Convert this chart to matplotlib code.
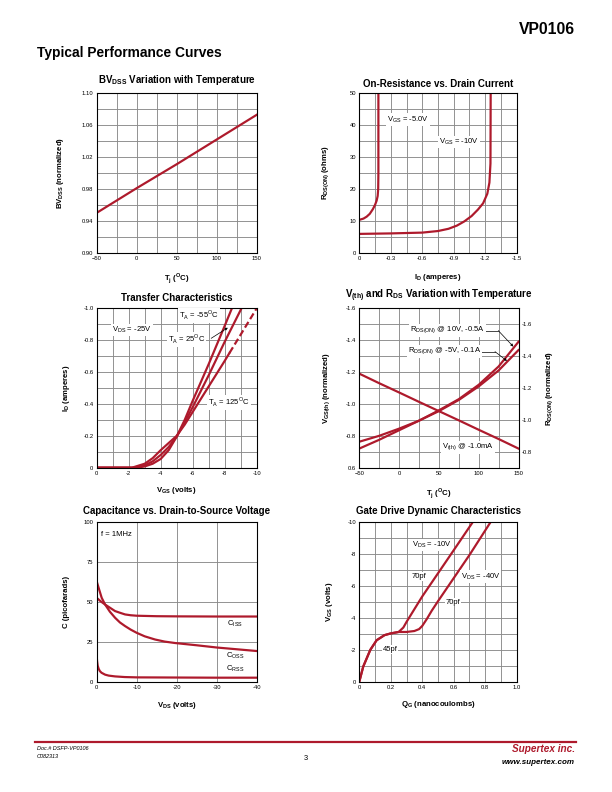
import numpy as np
import matplotlib
matplotlib.use('Agg')
import matplotlib.pyplot as plt
from matplotlib.ticker import MultipleLocator, FixedLocator

plt.rcParams['font.family'] = ['Liberation Sans', 'DejaVu Sans']
plt.rcParams['mathtext.fontset'] = 'custom'
plt.rcParams['mathtext.rm'] = 'Liberation Sans'
plt.rcParams['mathtext.bf'] = 'Liberation Sans:bold'

RED = '#AE1A2C'
GRID = '#8a8a8a'

# ---- data ----
# BVdss vs temperature
bv_temp = [-50, 0, 50, 100, 150]
bv_norm = [0.950, 0.981, 1.011, 1.042, 1.073]

# On-resistance vs drain current
ron5_id = [0, -0.04, -0.07, -0.10, -0.13, -0.15, -0.165, -0.175, -0.18, -0.182, -0.182]
ron5_r = [10.3, 10.7, 11.3, 12.2, 13.7, 15.0, 16.3, 17.8, 20.0, 25.0, 50.0]
ron10_id = [0, -0.3, -0.6, -0.75, -0.85, -0.93, -1.0, -1.07, -1.13, -1.18, -1.22, -1.24, -1.25, -1.252]
ron10_r = [5.9, 6.05, 6.3, 6.8, 7.5, 8.5, 9.8, 11.5, 13.5, 15.5, 18.5, 22.0, 28.0, 50.0]

# Transfer characteristics (VDS = -25V)
tr_m55_v = [0, -2.5, -3.0, -3.5, -4.0, -4.5, -5.0, -5.5, -6.0, -7.0, -8.0, -8.45]
tr_m55_i = [0, 0, -0.008, -0.025, -0.055, -0.11, -0.195, -0.30, -0.42, -0.65, -0.89, -1.0]
tr_25_v = [0, -2.3, -3.0, -3.5, -4.0, -4.5, -5.0, -5.5, -6.0, -7.0, -8.0, -9.05]
tr_25_i = [0, 0, -0.015, -0.04, -0.08, -0.13, -0.195, -0.285, -0.38, -0.58, -0.79, -1.0]
tr_125_v = [0, -2.2, -3.0, -3.5, -4.0, -4.5, -5.0, -5.5, -6.0, -7.0, -8.0, -8.3]
tr_125_i = [0, 0, -0.025, -0.06, -0.11, -0.155, -0.20, -0.27, -0.35, -0.51, -0.67, -0.72]
tr_125_dash_v = [-8.3, -9.0, -10.0]
tr_125_dash_i = [-0.72, -0.835, -1.0]

# Vth and Rds(on) vs temperature
vt_temp = [-50, -25, 0, 25, 50, 75, 100, 125, 150]
vth = [-1.19, -1.13, -1.072, -1.013, -0.955, -0.897, -0.838, -0.78, -0.72]
rds10 = [-0.72, -0.775, -0.835, -0.895, -0.96, -1.03, -1.12, -1.235, -1.39]
rds5 = [-0.763, -0.80, -0.845, -0.895, -0.955, -1.025, -1.11, -1.21, -1.338]

# Capacitance vs VDS
ciss_v = [0, -1, -2.1, -3.5, -4.6, -6, -7.1, -8.5, -10, -15, -20, -30, -40]
ciss_c = [52.7, 50.5, 48.5, 46.2, 44.4, 43.2, 42.3, 41.8, 41.5, 41.2, 41.1, 41.0, 41.0]
coss_v = [0, -0.6, -1.25, -2.1, -3.3, -4.6, -5.8, -7.1, -8.5, -10, -12, -14.6, -17, -19.6, -25, -30, -35, -40]
coss_c = [63, 58, 52.7, 48.5, 44.0, 40.2, 37.3, 35.0, 32.8, 30.8, 28.6, 26.6, 25.3, 24.4, 23.0, 21.6, 20.5, 19.4]
crss_v = [0, -0.1, -0.25, -0.5, -0.8, -1.2, -2.1, -3.0, -4.6, -7, -10, -20, -30, -40]
crss_c = [16, 13, 10.2, 8.2, 6.8, 5.8, 4.6, 4.0, 3.5, 3.1, 2.9, 2.8, 2.7, 2.7]

# Gate drive dynamic characteristics
gd10_q = [0, 0.025, 0.07, 0.11, 0.16, 0.20, 0.25, 0.28, 0.30, 0.35, 0.40, 0.50, 0.60, 0.72]
gd10_v = [0, -0.95, -2.0, -2.6, -2.92, -3.03, -3.12, -3.4, -3.75, -4.55, -5.35, -6.8, -8.25, -10.0]
gd40_q = [0, 0.025, 0.07, 0.11, 0.16, 0.20, 0.25, 0.30, 0.35, 0.38, 0.40, 0.43, 0.46, 0.50, 0.60, 0.70, 0.83]
gd40_v = [0, -0.95, -2.0, -2.6, -2.92, -3.03, -3.12, -3.12, -3.18, -3.3, -3.5, -3.95, -4.45, -5.05, -6.5, -7.95, -9.95]

fig = plt.figure(figsize=(8.5, 11), dpi=72)
W, H = 612.0, 792.0

TICK_FS = 5.9
LAB_FS = 7.8
TITLE_FS = 9.7
NOTE_FS = 7.6


def make_ax(x0, y0, x1, y1):
    # pixel box -> figure fraction
    return fig.add_axes([x0 / W, 1 - y1 / H, (x1 - x0) / W, (y1 - y0) / H])


def style(ax, title, ty, xlabel, xly, ylabel, ylx):
    ax.grid(True, which='both', color=GRID, lw=0.9)
    ax.set_axisbelow(True)
    ax.tick_params(which='both', length=0, labelsize=TICK_FS, pad=3.2)
    for s in ax.spines.values():
        s.set_linewidth(1.1)
    ax.text(0.5, ty, title, transform=ax.transAxes, ha='center', va='center',
            fontsize=TITLE_FS, fontweight='bold')
    ax.set_xlabel(xlabel, fontsize=LAB_FS, fontweight='bold')
    ax.set_ylabel(ylabel, fontsize=LAB_FS, fontweight='bold')
    ax.xaxis.set_label_coords(0.5, xly)
    ax.yaxis.set_label_coords(ylx, 0.5)


def label(ax, x, y, s, ha='center', size=NOTE_FS):
    ax.text(x, y, s, ha=ha, va='center', fontsize=size, zorder=5,
            bbox=dict(facecolor='white', edgecolor='none', pad=1.0))


lw = 2.2

# ---- BVdss ----
ax1 = make_ax(96.7, 93.3, 256.7, 252.7)
ax1.plot(bv_temp, bv_norm, color=RED, lw=lw)
ax1.set_xlim(-50, 150)
ax1.set_ylim(0.90, 1.10)
ax1.xaxis.set_major_locator(MultipleLocator(50))
ax1.xaxis.set_minor_locator(MultipleLocator(25))
ax1.yaxis.set_major_locator(FixedLocator([0.90, 0.94, 0.98, 1.02, 1.06, 1.10]))
ax1.yaxis.set_minor_locator(FixedLocator(np.linspace(0.90, 1.10, 11)))
ax1.yaxis.set_major_formatter(lambda v, p: f'{v:.2f}')
style(ax1, r'BV$_\mathregular{DSS}$ Variation with Temperature', 1.083,
      r'T$_\mathregular{j}$ ($^\mathregular{O}$C)', -0.123,
      r'BV$_\mathregular{DSS}$ (normalized)', -0.19)

# ---- On-resistance ----
ax2 = make_ax(359.3, 93.3, 516.7, 252.7)
ax2.plot(ron5_id, ron5_r, color=RED, lw=lw)
ax2.plot(ron10_id, ron10_r, color=RED, lw=lw)
ax2.set_xlim(0, -1.5)
ax2.set_ylim(0, 50)
ax2.xaxis.set_major_locator(FixedLocator([0, -0.3, -0.6, -0.9, -1.2, -1.5]))
ax2.xaxis.set_minor_locator(FixedLocator(np.arange(0, -1.51, -0.15)))
ax2.xaxis.set_major_formatter(lambda v, p: '0' if abs(v) < 1e-9 else f'{v:.1f}')
ax2.yaxis.set_major_locator(MultipleLocator(10))
ax2.yaxis.set_minor_locator(MultipleLocator(5))
style(ax2, 'On-Resistance vs. Drain Current', 1.058,
      r'I$_\mathregular{D}$ (amperes)', -0.123,
      r'R$_\mathregular{DS(ON)}$ (ohms)', -0.175)
label(ax2, -0.46, 41.8, r'V$_\mathregular{GS}$ = -5.0V')
label(ax2, -0.95, 34.8, r'V$_\mathregular{GS}$ = -10V')

# ---- Transfer characteristics ----
ax3 = make_ax(96.7, 308.3, 256.7, 467.7)
ax3.plot(tr_m55_v, tr_m55_i, color=RED, lw=lw)
ax3.plot(tr_25_v, tr_25_i, color=RED, lw=lw)
ax3.plot(tr_125_v, tr_125_i, color=RED, lw=lw)
ax3.plot(tr_125_dash_v, tr_125_dash_i, color=RED, lw=lw, ls=(0, (3, 1.5)))
ax3.set_xlim(0, -10)
ax3.set_ylim(0, -1.0)
ax3.xaxis.set_major_locator(MultipleLocator(2))
ax3.xaxis.set_minor_locator(MultipleLocator(1))
ax3.xaxis.set_major_formatter(lambda v, p: f'{v:.0f}' if v != 0 else '0')
ax3.yaxis.set_major_locator(MultipleLocator(0.2))
ax3.yaxis.set_minor_locator(MultipleLocator(0.1))
ax3.yaxis.set_major_formatter(lambda v, p: '0' if abs(v) < 1e-9 else f'{v:.1f}')
style(ax3, 'Transfer Characteristics', 1.067,
      r'V$_\mathregular{GS}$ (volts)', -0.108,
      r'I$_\mathregular{D}$ (amperes)', -0.156)
label(ax3, -6.4, -0.955, r'T$_\mathregular{A}$ = -55$^\mathregular{O}$C')
label(ax3, -2.2, -0.865, r'V$_\mathregular{DS}$ = -25V')
label(ax3, -5.6, -0.805, r'T$_\mathregular{A}$ = 25$^\mathregular{O}$C')
ax3.annotate('', xy=(-8.3, -0.885), xytext=(-7.05, -0.805),
             arrowprops=dict(arrowstyle='-|>', color='black', lw=0.7,
                             mutation_scale=5), zorder=6)
label(ax3, -8.25, -0.41, r'T$_\mathregular{A}$ = 125$^\mathregular{O}$C')

# ---- Vth and Rds vs temperature ----
ax4 = make_ax(359.3, 308.3, 518.5, 467.7)
ax4.plot(vt_temp, vth, color=RED, lw=lw)
ax4.plot(vt_temp, rds10, color=RED, lw=lw)
ax4.plot(vt_temp, rds5, color=RED, lw=lw)
ax4.set_xlim(-50, 150)
ax4.set_ylim(-0.6, -1.6)
ax4.xaxis.set_major_locator(MultipleLocator(50))
ax4.xaxis.set_minor_locator(MultipleLocator(25))
ax4.yaxis.set_major_locator(FixedLocator([-0.6, -0.8, -1.0, -1.2, -1.4, -1.6]))
ax4.yaxis.set_minor_locator(MultipleLocator(0.1))
ax4.set_yticklabels(['0.6', '-0.8', '-1.0', '-1.2', '-1.4', '-1.6'])
style(ax4, r'V$_\mathregular{(th)}$ and R$_\mathregular{DS}$ Variation with Temperature', 1.079,
      r'T$_\mathregular{j}$ ($^\mathregular{O}$C)', -0.119,
      r'V$_\mathregular{GS(th)}$ (normalized)', -0.163)
ax4r = ax4.twinx()
ax4r.set_ylim(-0.7, -1.7)
ax4r.set_yticks([-0.8, -1.0, -1.2, -1.4, -1.6])
ax4r.set_yticklabels(['-0.8', '-1.0', '-1.2', '-1.4', '-1.6'])
ax4r.tick_params(length=0, labelsize=TICK_FS, pad=3.2)
ax4r.set_ylabel(r'R$_\mathregular{DS(ON)}$ (normalized)', fontsize=LAB_FS, fontweight='bold')
ax4r.yaxis.set_label_coords(1.165, 0.5)
label(ax4, 61, -1.46, r'R$_\mathregular{DS(ON)}$ @ 10V, -0.5A')
label(ax4, 57, -1.328, r'R$_\mathregular{DS(ON)}$ @ -5V, -0.1A')
label(ax4, 86, -0.724, r'V$_\mathregular{(th)}$ @ -1.0mA')
ax4.plot([108, 124.6], [-1.46, -1.46], color='black', lw=0.7, zorder=4)
ax4.annotate('', xy=(143.5, -1.36), xytext=(124.6, -1.46),
             arrowprops=dict(arrowstyle='-|>', color='black', lw=0.7,
                             mutation_scale=5, shrinkA=0, shrinkB=0), zorder=6)
ax4.plot([102, 120.5], [-1.328, -1.328], color='black', lw=0.7, zorder=4)
ax4.annotate('', xy=(135.5, -1.27), xytext=(120.5, -1.328),
             arrowprops=dict(arrowstyle='-|>', color='black', lw=0.7,
                             mutation_scale=5, shrinkA=0, shrinkB=0), zorder=6)

# ---- Capacitance ----
ax5 = make_ax(96.7, 522.3, 256.7, 682.0)
ax5.plot(ciss_v, ciss_c, color=RED, lw=lw)
ax5.plot(coss_v, coss_c, color=RED, lw=lw)
ax5.plot(crss_v, crss_c, color=RED, lw=lw)
ax5.set_xlim(0, -40)
ax5.set_ylim(0, 100)
ax5.xaxis.set_major_locator(MultipleLocator(10))
ax5.yaxis.set_major_locator(MultipleLocator(25))
ax5.xaxis.set_major_formatter(lambda v, p: f'{v:.0f}' if v != 0 else '0')
style(ax5, 'Capacitance vs. Drain-to-Source Voltage', 1.073,
      r'V$_\mathregular{DS}$ (volts)', -0.113,
      'C (picofarads)', -0.167)
ax5.text(-1.0, 92.5, 'f = 1MHz', fontsize=NOTE_FS, va='center')
ax5.text(-32.5, 36.5, r'C$_\mathregular{ISS}$', fontsize=NOTE_FS, va='center')
ax5.text(-32.3, 16.3, r'C$_\mathregular{OSS}$', fontsize=NOTE_FS, va='center')
ax5.text(-32.3, 8.4, r'C$_\mathregular{RSS}$', fontsize=NOTE_FS, va='center')

# ---- Gate drive ----
ax6 = make_ax(359.3, 522.3, 516.7, 681.7)
ax6.plot(gd10_q, gd10_v, color=RED, lw=lw)
ax6.plot(gd40_q, gd40_v, color=RED, lw=lw)
ax6.set_xlim(0, 1.0)
ax6.set_ylim(0, -10)
ax6.xaxis.set_major_locator(MultipleLocator(0.2))
ax6.xaxis.set_minor_locator(MultipleLocator(0.1))
ax6.xaxis.set_major_formatter(lambda v, p: '0' if v == 0 else f'{v:.1f}')
ax6.yaxis.set_major_locator(MultipleLocator(2))
ax6.yaxis.set_minor_locator(MultipleLocator(1))
ax6.yaxis.set_major_formatter(lambda v, p: f'{v:.0f}' if v != 0 else '0')
style(ax6, 'Gate Drive Dynamic Characteristics', 1.074,
      r'Q$_\mathregular{G}$ (nanocoulombs)', -0.109,
      r'V$_\mathregular{GS}$ (volts)', -0.155)
label(ax6, 0.46, -8.58, r'V$_\mathregular{DS}$ = -10V')
label(ax6, 0.38, -6.59, '70pf')
label(ax6, 0.77, -6.59, r'V$_\mathregular{DS}$ = -40V')
label(ax6, 0.595, -5.0, '70pf')
label(ax6, 0.195, -2.0, '45pf')

# ---- page header / footer ----
fig.text(575 / W, 1 - 30 / H, 'VP0106', ha='right', va='center', fontsize=15.8, fontweight='bold')
fig.text(37 / W, 1 - 53 / H, 'Typical Performance Curves', ha='left', va='center',
         fontsize=13.8, fontweight='bold')
fig.add_artist(plt.Line2D([35 / W, 576 / W], [1 - 742 / H, 1 - 742 / H], color=RED, lw=2.2))
fig.text(37 / W, 1 - 749 / H, 'Doc.# DSFP-VP0106', fontsize=5.5, style='italic', va='center')
fig.text(37 / W, 1 - 757 / H, 'C082313', fontsize=5.5, style='italic', va='center')
fig.text(306 / W, 1 - 758 / H, '3', fontsize=7.5, ha='center', va='center')
fig.text(575 / W, 1 - 749 / H, 'Supertex inc.', fontsize=10, ha='right', va='center',
         fontweight='bold', style='italic', color=RED)
fig.text(575 / W, 1 - 762 / H, 'www.supertex.com', fontsize=8, ha='right', va='center',
         fontweight='bold', style='italic')

fig.savefig('out.png', dpi=72)
